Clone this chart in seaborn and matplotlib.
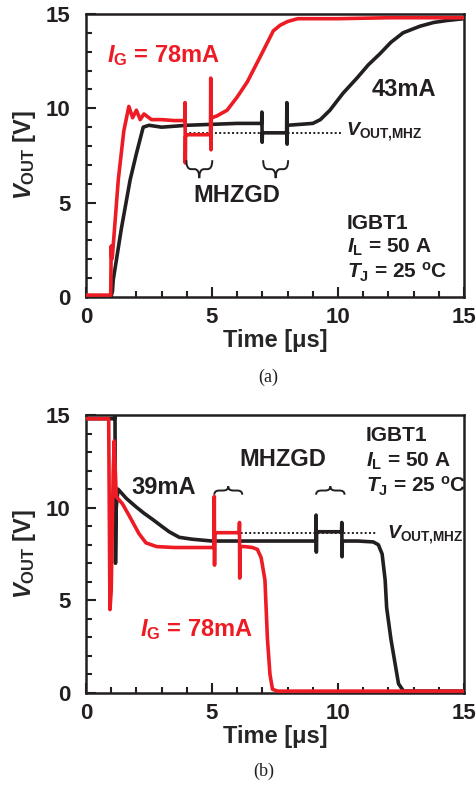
import numpy as np
import pandas as pd
import matplotlib
matplotlib.use("Agg")
import matplotlib.pyplot as plt
from matplotlib.path import Path
from matplotlib.patches import PathPatch
import seaborn as sns

# ---- turn-on waveforms (a) ----
on_t_78 = [0, 0.98, 1.0, 1.02, 1.05, 1.28, 1.5, 1.7, 1.85, 2.0, 2.15, 2.3, 2.6, 3.0, 3.5,
           3.92, 3.93, 3.94, 3.95, 3.97, 4.5, 4.94, 4.95, 4.96, 4.97, 5.0, 5.2, 5.6, 6.0,
           6.4, 6.9, 7.43, 7.7, 8.0, 8.4, 9.0, 10.0, 12.0, 15.0]
on_v_78 = [0.1, 0.1, 2.7, 2.0, 2.2, 6.2, 8.8, 10.1, 9.5, 9.9, 9.4, 9.7, 9.4, 9.4, 9.35,
           9.35, 10.3, 7.1, 8.5, 8.6, 8.6, 8.6, 11.6, 7.8, 9.4, 9.5, 9.6, 9.9, 10.6,
           11.4, 12.7, 14.1, 14.4, 14.6, 14.75, 14.75, 14.75, 14.8, 14.8]

on_t_43 = [0, 1.0, 1.05, 1.08, 1.4, 1.75, 2.0, 2.27, 2.5, 3.0, 4.0, 5.0, 6.0,
           6.97, 6.98, 6.99, 7.0, 7.5, 7.96, 7.97, 7.98, 7.99, 8.5, 9.0, 9.3, 9.68,
           10.2, 10.75, 11.2, 11.67, 12.1, 12.58, 13.25, 13.8, 14.3, 15.0]
on_v_43 = [0.05, 0.05, 0.3, 0.9, 3.6, 6.2, 7.6, 9.0, 9.1, 9.0, 9.1, 9.15, 9.2,
           9.2, 9.8, 8.2, 8.7, 8.7, 8.7, 10.3, 8.1, 9.1, 9.15, 9.2, 9.4, 9.9,
           10.8, 11.6, 12.3, 12.9, 13.5, 14.0, 14.35, 14.55, 14.65, 14.75]

# ---- turn-off waveforms (b) ----
off_t_78 = [0, 0.9, 0.95, 1.0, 1.08, 1.12, 1.2, 1.45, 1.7, 2.1, 2.38, 2.8, 3.5, 4.2,
            5.08, 5.09, 5.10, 5.11, 5.2, 5.6, 6.08, 6.09, 6.10, 6.11, 6.3, 6.6, 6.8,
            6.95, 7.1, 7.2, 7.3, 7.4, 7.6, 9.0, 12.0, 15.0]
off_v_78 = [14.8, 14.8, 4.5, 5.5, 12.0, 13.6, 10.6, 10.2, 9.6, 8.6, 8.1, 7.9, 7.85, 7.85,
            7.85, 10.6, 6.9, 8.6, 8.65, 8.65, 8.65, 9.2, 6.2, 7.9, 7.9, 7.85, 7.75,
            7.3, 6.1, 2.9, 1.0, 0.2, 0.1, 0.1, 0.1, 0.1]

off_t_39 = [0, 1.13, 1.15, 1.17, 1.2, 1.27, 1.6, 1.98, 2.3, 2.66, 3.0, 3.3, 3.7, 4.2,
            5.0, 6.0, 7.0, 8.0, 9.12, 9.13, 9.14, 9.15, 9.6, 10.14, 10.15, 10.16, 10.17,
            10.8, 11.4, 11.6, 11.75, 11.87, 11.93, 12.1, 12.25, 12.4, 12.6, 13.0, 15.0]
off_v_39 = [14.8, 14.8, 15.5, 7.0, 10.0, 11.0, 10.5, 10.05, 9.7, 9.35, 9.0, 8.7, 8.4, 8.3,
            8.2, 8.2, 8.2, 8.2, 8.2, 9.6, 7.6, 8.7, 8.7, 8.7, 9.2, 7.35, 8.2,
            8.2, 8.15, 8.0, 7.5, 6.1, 4.6, 2.9, 1.7, 0.5, 0.1, 0.1, 0.1]

# MHZGD windows [µs] and plateau reference level
mhz_on = [(3.93, 4.96), (6.98, 7.97)]
mhz_off = [(5.09, 6.10), (9.13, 10.16)]
v_mhz_on = 8.7
v_mhz_off = 8.65
dotted_on = (3.93, 10.2)
dotted_off = (5.1, 11.5)

RED = "#ED1C24"
BLK = "#231F20"

sns.set_style("ticks")
plt.rcParams.update({
    "font.family": ["Liberation Sans", "DejaVu Sans"],
    "font.weight": "bold",
    "mathtext.fontset": "custom",
    "mathtext.rm": "Liberation Sans:bold",
    "mathtext.bf": "Liberation Sans:bold",
    "mathtext.it": "Liberation Sans:italic:bold",
    "xtick.bottom": True, "ytick.left": True,
    "xtick.top": False, "ytick.right": False,
    "xtick.direction": "in", "ytick.direction": "in",
    "xtick.major.size": 7, "ytick.major.size": 7,
    "xtick.minor.size": 4, "ytick.minor.size": 4,
    "xtick.major.width": 1.5, "ytick.major.width": 1.5,
    "xtick.minor.width": 1.5, "ytick.minor.width": 1.5,
    "xtick.color": BLK, "ytick.color": BLK,
})

fig = plt.figure(figsize=(4.77, 7.89), dpi=100)
ax_a = fig.add_axes([0.1803, 0.6236, 0.7925, 0.3587])
ax_b = fig.add_axes([0.1803, 0.1217, 0.7925, 0.3523])


def brace(ax, x0, x1, y_end, y_tip, lw=1.4):
    xm = (x0 + x1) / 2
    ym = y_end + (y_tip - y_end) * 0.5
    r = (x1 - x0) * 0.18
    verts = [(x0, y_end), (x0, ym), (x0 + r, ym), (xm - r, ym), (xm, ym), (xm, y_tip),
             (xm, ym), (xm + r, ym), (x1 - r, ym), (x1, ym), (x1, y_end)]
    codes = [Path.MOVETO, Path.CURVE3, Path.CURVE3, Path.LINETO, Path.CURVE3, Path.CURVE3,
             Path.CURVE3, Path.CURVE3, Path.LINETO, Path.CURVE3, Path.CURVE3]
    ax.add_patch(PathPatch(Path(verts, codes), fill=False, lw=lw, color=BLK, zorder=4))


def style_axes(ax):
    ax.set_xlim(0, 15)
    ax.set_ylim(0, 15)
    ax.set_xticks([0, 5, 10, 15])
    ax.set_yticks([0, 5, 10, 15])
    ax.set_xticks(np.arange(0, 16, 1), minor=True)
    ax.set_yticks(np.arange(0, 16, 1), minor=True)
    ax.tick_params(which="both", direction="in", bottom=True, left=True, top=False,
                   right=False, width=1.5, color=BLK)
    ax.tick_params(which="major", length=7)
    ax.tick_params(which="minor", length=4)
    ax.tick_params(axis="y", which="major", pad=11, labelsize=16)
    ax.tick_params(axis="x", which="major", pad=7, labelsize=16)
    for lab in ax.get_xticklabels() + ax.get_yticklabels():
        lab.set_fontweight("bold")
    for s in ax.spines.values():
        s.set_visible(True)
        s.set_linewidth(1.8)
        s.set_color(BLK)
    ax.set_xlabel("Time [μs]", fontsize=17, fontweight="bold", labelpad=1)
    ax.set_ylabel(r"$V_{\rm OUT}$ [V]", fontsize=17, fontweight="bold", labelpad=6)


def draw_traces(ax, t_blk, v_blk, t_red, v_red, dotted, vmhz):
    ax.plot(list(dotted), [vmhz, vmhz], ls=(0, (1, 1.2)), lw=1.4, color=BLK, zorder=1)
    df_b = pd.DataFrame({"t": t_blk, "v": v_blk})
    df_r = pd.DataFrame({"t": t_red, "v": v_red})
    sns.lineplot(data=df_b, x="t", y="v", ax=ax, color=BLK, lw=2.6, sort=False,
                 estimator=None, zorder=2, solid_joinstyle="round")
    sns.lineplot(data=df_r, x="t", y="v", ax=ax, color=RED, lw=2.6, sort=False,
                 estimator=None, zorder=3, solid_joinstyle="round")


# (a) turn-on
draw_traces(ax_a, on_t_43, on_v_43, on_t_78, on_v_78, dotted_on, v_mhz_on)
for x0, x1 in mhz_on:
    brace(ax_a, x0 + 0.05, x1 + 0.05, 7.25, 6.3)
ax_a.text(6.0, 5.4, "MHZGD", ha="center", va="center", fontsize=17, color=BLK)
ax_a.text(0.83, 12.8, r"$I_{\rm G}$ = 78mA", ha="left", va="center", fontsize=17, color=RED)
ax_a.text(12.6, 11.0, "43mA", ha="center", va="center", fontsize=17, color=BLK)
ax_a.text(10.3, 8.75, r"$V_{\rm OUT{,}MHZ}$", ha="left", va="center", fontsize=14,
          color=BLK)
ax_a.text(10.35, 3.9, "IGBT1", ha="left", va="center", fontsize=15, color=BLK)
ax_a.text(10.35, 2.65, r"$I_{\rm L}$ = 50 A", ha="left", va="center", fontsize=15, color=BLK)
ax_a.text(10.35, 1.3, r"$T_{\rm J}$ = 25 $^{\rm o}$C", ha="left", va="center", fontsize=15,
          color=BLK)
style_axes(ax_a)

# (b) turn-off
draw_traces(ax_b, off_t_39, off_v_39, off_t_78, off_v_78, dotted_off, v_mhz_off)
for x0, x1 in mhz_off:
    brace(ax_b, x0, x1 + 0.1, 10.7, 11.15)
ax_b.text(7.8, 12.6, "MHZGD", ha="center", va="center", fontsize=17, color=BLK)
ax_b.text(3.1, 11.1, "39mA", ha="center", va="center", fontsize=17, color=BLK)
ax_b.text(2.14, 3.4, r"$I_{\rm G}$ = 78mA", ha="left", va="center", fontsize=17, color=RED)
ax_b.text(11.95, 8.55, r"$V_{\rm OUT{,}MHZ}$", ha="left", va="center", fontsize=14,
          color=BLK)
ax_b.text(11.1, 13.9, "IGBT1", ha="left", va="center", fontsize=15, color=BLK)
ax_b.text(11.1, 12.5, r"$I_{\rm L}$ = 50 A", ha="left", va="center", fontsize=15, color=BLK)
ax_b.text(11.1, 11.15, r"$T_{\rm J}$ = 25 $^{\rm o}$C", ha="left", va="center", fontsize=15,
          color=BLK)
style_axes(ax_b)

fig.text(268 / 477, 1 - 377 / 789, "(a)", ha="center", va="center", fontsize=13,
         family=["Liberation Serif"], fontweight="normal", color=BLK)
fig.text(264 / 477, 1 - 771 / 789, "(b)", ha="center", va="center", fontsize=13,
         family=["Liberation Serif"], fontweight="normal", color=BLK)

fig.savefig("out.png", dpi=100, facecolor="white")
